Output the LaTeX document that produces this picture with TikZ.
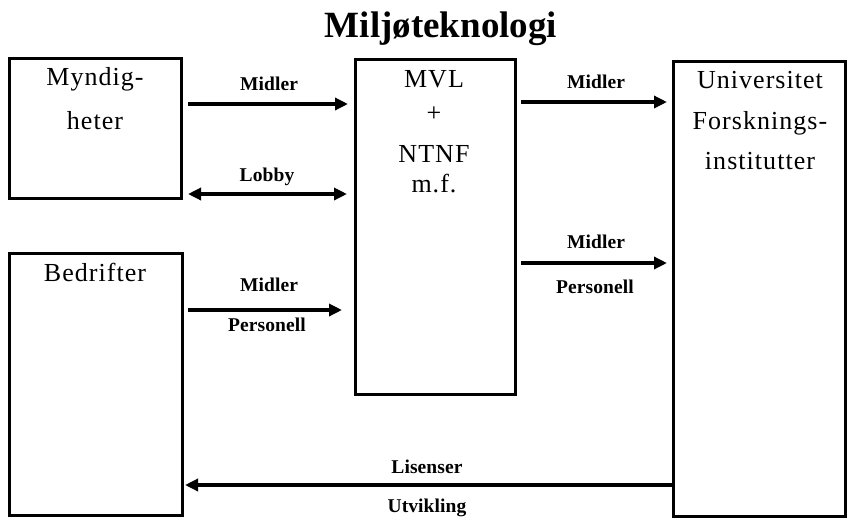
\documentclass[tikz,border=0pt]{standalone}
\usepackage{fontspec}
\setmainfont{Liberation Serif}
\newfontfamily\boxfont[LetterSpace=4]{Liberation Serif}
\newfontfamily\lblfont[LetterSpace=0.5]{Liberation Serif}
\usetikzlibrary{arrows.meta}
\begin{document}
\begin{tikzpicture}[x=1pt,y=-1pt,
  box/.style={draw, line width=3pt, inner sep=0pt},
  boxtext/.style={font={\fontsize{26}{30}\selectfont\boxfont}, anchor=base, inner sep=0pt},
  lbl/.style={font={\fontsize{19.5}{22}\selectfont\lblfont\bfseries}, anchor=base, inner sep=0pt},
  arr/.style={line width=3.5pt, -{Triangle[length=13pt,width=12pt]}},
  darr/.style={line width=3.5pt, {Triangle[length=13pt,width=12pt]}-{Triangle[length=13pt,width=12pt]}}]
\useasboundingbox (0,0) rectangle (847,520);

% title
\node[font={\fontsize{37}{40}\selectfont\bfseries}, anchor=base, inner sep=0pt] (title) at (441,37) {Miljøteknologi};

% boxes
\node[box, minimum width=172pt, minimum height=140pt] (myn) at (95.5,128.5) {};
\node[box, minimum width=173pt, minimum height=262pt] (bed) at (96,384.5) {};
\node[box, minimum width=160pt, minimum height=335pt] (mvl) at (435.5,227) {};
\node[box, minimum width=172pt, minimum height=455pt] (uni) at (759.5,289) {};

% box texts
\node[boxtext] (myn1) at (95,85) {Myndig-};
\node[boxtext] (myn2) at (95,129) {heter};
\node[boxtext] (bed1) at (95,281) {Bedrifter};
\node[boxtext] (mvl1) at (434,87) {MVL};
\node[boxtext, anchor=center] (mvl2) at (434,114) {+};
\node[boxtext] (mvl3) at (434,162) {NTNF};
\node[boxtext] (mvl4) at (434,192) {m.f.};
\node[boxtext] (uni1) at (760,88) {Universitet};
\node[boxtext] (uni2) at (760,129) {Forsknings-};
\node[boxtext] (uni3) at (760,169) {institutter};

% connectors
\draw[arr] ([xshift=5pt]myn.east |- 0,104) -- ([xshift=-6pt]mvl.west |- 0,104);
\draw[darr] ([xshift=5pt]myn.east |- 0,194) -- ([xshift=-7pt]mvl.west |- 0,194);
\draw[arr] ([xshift=4pt]mvl.east |- 0,102) -- ([xshift=-5pt]uni.west |- 0,102);
\draw[arr] ([xshift=4pt]mvl.east |- 0,263) -- ([xshift=-5pt]uni.west |- 0,263);
\draw[arr] ([xshift=4pt]bed.east |- 0,310) -- ([xshift=-12pt]mvl.west |- 0,310);
\draw[arr] (uni.west |- 0,485) -- ([xshift=1pt]bed.east |- 0,485);

% connector labels
\node[lbl] (l1) at (269,90) {Midler};
\node[lbl] (l2) at (267,181) {Lobby};
\node[lbl] (l3) at (596,88) {Midler};
\node[lbl] (l4) at (596,248) {Midler};
\node[lbl] (l5) at (595,293) {Personell};
\node[lbl] (l6) at (269,291) {Midler};
\node[lbl] (l7) at (267,331) {Personell};
\node[lbl] (l8) at (427,473) {Lisenser};
\node[lbl] (l9) at (427,512) {Utvikling};
\end{tikzpicture}
\end{document}
